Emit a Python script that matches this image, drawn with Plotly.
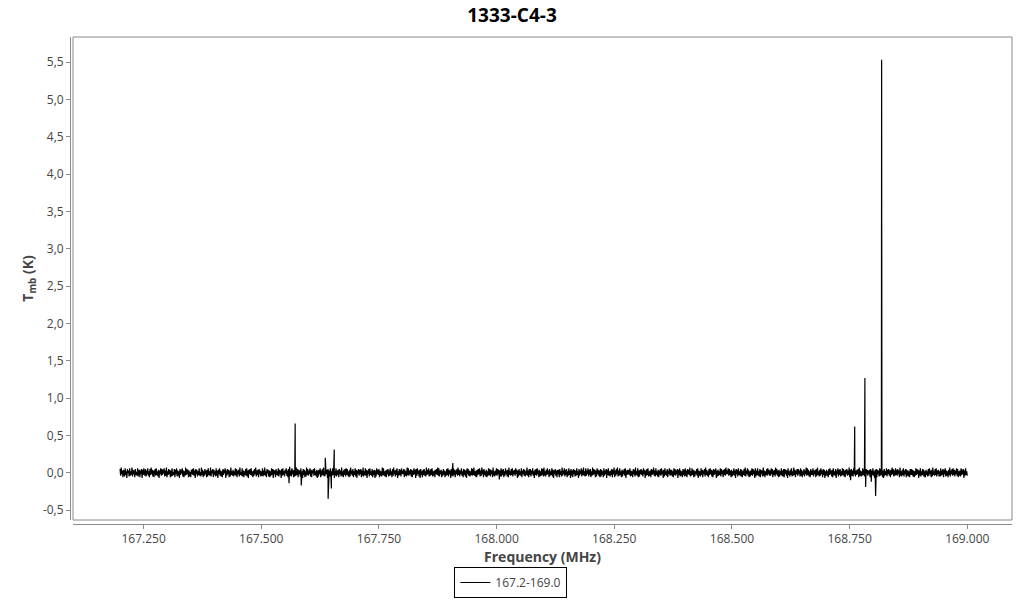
import numpy as np
import plotly.graph_objects as go

title_text = "1333-C4-3"
series_name = "167.2-169.0"
x_title = "Frequency (MHz)"
y_title = "T<sub>mb</sub> (K)"

freq_start = 167.2
freq_stop = 169.0

# baseline channel noise, in units of 0.01 K (read as a dense band of about +/-0.06 K)
noise_centiK = [
    5, -4, 7, -2, 3, -6, 4, 1, -5, 6, -3, 2, -7, 5, -1, 3, -5, 6, -4, 2, -3, 7, -5, 4, -2,
    3, -6, 5, -3, 1, -4, 6, -5, 2, 4, -6, 3, -2, 5, -7, 4, -3, 6, -1, -4, 5, -5, 3, -2, 6,
    -4, 2, -6, 5, -3, 7, -2, 4, -5, 3, -6, 1, 5, -4, 6, -3, 2, -5, 4, -7, 3, -2, 6, -4, 5,
    -3, 4, -1, 6, -5, 3, -4, 7, -6, 2, -3, 5, -2, 4, -6, 3, -5, 6, -4, 1, -3, 5, -6, 4, -2,
    6, -5, 3, -4, 2, -7, 5, -3, 4, -1, 6, -5, 3, -6, 2, -4, 7, -3, 5, -2, 4, -6, 3, -5, 1,
    -6, 4, -2, 5, -3, 6, -4, 3, -7, 5, -2, 4, -5, 2, -3, 6, -4, 1, -5, 7, -3, 4, -6, 2, -4,
    5, -2, 3, -6, 4, -5, 6, -3, 2, -4, 7, -5, 3, -1, 5, -6, 4, -3, 2, -5, 6, -4, 3, -7, 4,
    -2, 6, -4, 3, -5, 2, -6, 5, -3, 4, -1, 6, -7, 3, -4, 5, -2, 4, -6, 3, -5, 7, -3, 2, -4,
    4, -5, 2, -3, 6, -4, 5, -6, 3, -2, 4, -5, 7, -3, 1, -4, 6, -5, 3, -6, 2, -3, 5, -4, 6,
    -5, 3, -7, 4, -2, 5, -3, 6, -4, 2, -6, 3, -4, 5, -2, 7, -5, 3, -3, 4, -6, 5, -2, 3, -5,
    2, -4, 6, -5, 3, -3, 7, -4, 2, -6, 5, -1, 4, -5, 3, -6, 2, -4, 6, -3, 5, -7, 4, -2, 3,
    -6, 5, -3, 2, -4, 6, -5, 4, -2, 3, -7, 5, -4, 6, -3, 2, -5, 4, -1, 6, -4, 3, -6, 5, -3,
    8, -4, 3, -5, 6, -2, 4, -6, 3, -5, 2, -4, 7, -3, 5, -6, 4, -2, 3, -5, 6, -4, 2, -7, 5,
    -3, 4, -6, 2, -5, 7, -3, 5, -4, 3, -2, 6, -5, 4, -6, 3, -1, 5, -4, 6, -3, 2, -5, 4, -7,
    3, -5, 4, -2, 6, -6, 3, -4, 5, -3, 7, -5, 2, -4, 6, -2, 4, -7, 5, -3, 3, -5, 6, -4, 2,
    -4, 6, -3, 5, -7, 2, -4, 6, -5, 3, -3, 4, -6, 5, -2, 3, -5, 7, -4, 2, -6, 4, -3, 5, -5,
    6, -3, 5, -4, 2, -6, 4, -5, 7, -2, 3, -4, 5, -6, 2, -3, 6, -5, 4, -7, 3, -2, 5, -4, 4,
    -2, 5, -6, 3, -4, 7, -5, 2, -3, 6, -4, 4, -7, 3, -2, 5, -5, 6, -3, 2, -4, 5, -6, 3, -3,
    4, -7, 3, -5, 6, -2, 4, -3, 5, -6, 3, -4, 2, -5, 7, -3, 6, -4, 2, -5, 3, -6, 4, -2, 5,
    -5, 3, -4, 6, -3, 2, -6, 5, -4, 7, -2, 3, -5, 4, -3, 6, -7, 2, -4, 5, -3, 4, -5, 6, -2,
    3, -2, 5, -6, 4, -4, 2, -5, 7, -3, 6, -4, 3, -2, 5, -5, 4, -6, 3, -3, 6, -2, 4, -7, 5,
    -4, 6, -2, 3, -5, 4, -7, 5, -3, 2, -6, 4, -3, 5, -4, 2, -5, 7, -3, 4, -2, 6, -5, 3, -4,
    5, -3, 6, -5, 2, -4, 3, -6, 4, -2, 5, -3, 7, -4, 6, -5, 3, -2, 4, -6, 2, -4, 5, -3, 3,
    -6, 2, -4, 5, -3, 6, -5, 4, -2, 3, -7, 5, -4, 2, -5, 6, -3, 4, -6, 3, -2, 5, -4, 7, -3,
    4, -5, 3, -2, 6, -4, 2, -6, 5, -3, 4, -5, 3, -7, 6, -2, 5, -4, 3, -5, 2, -3, 6, -4, 5,
    -3, 7, -4, 2, -5, 3, -6, 4, -3, 5, -2, 6, -5, 3, -4, 7, -2, 4, -6, 5, -3, 2, -5, 4, -6,
    2, -4, 6, -3, 5, -5, 4, -2, 3, -6, 7, -4, 2, -5, 3, -3, 6, -4, 5, -2, 4, -9, 3, -5, 6,
    -5, 4, -3, 5, -6, 2, -4, 6, -2, 3, -5, 4, -6, 7, -3, 2, -4, 5, -3, 6, -5, 3, -2, 4, -4,
    6, -2, 4, -7, 3, -5, 5, -3, 2, -4, 6, -6, 3, -2, 5, -4, 4, -5, 2, -3, 7, -4, 3, -6, 5,
    -3, 5, -5, 3, -2, 6, -4, 2, -7, 4, -3, 5, -4, 6, -2, 3, -6, 4, -5, 2, -4, 6, -3, 5, -5,
    7, -4, 2, -5, 4, -3, 6, -2, 3, -6, 5, -4, 2, -3, 6, -5, 4, -7, 3, -2, 5, -4, 3, -6, 4,
    -2, 4, -6, 5, -3, 2, -5, 7, -4, 3, -2, 6, -5, 4, -3, 5, -6, 2, -4, 6, -3, 3, -7, 5, -4,
    3, -6, 5, -2, 4, -5, 3, -4, 6, -3, 2, -7, 5, -4, 3, -2, 6, -5, 4, -3, 7, -4, 2, -5, 6,
    -4, 3, -2, 6, -5, 4, -3, 5, -6, 2, -4, 7, -3, 5, -2, 4, -6, 3, -5, 6, -2, 4, -4, 3, -6,
    5, -5, 4, -3, 2, -6, 6, -4, 3, -2, 5, -7, 4, -3, 6, -4, 2, -5, 3, -3, 5, -6, 4, -2, 7,
    -6, 3, -4, 5, -2, 7, -5, 3, -4, 6, -3, 2, -6, 4, -5, 3, -2, 5, -4, 6, -7, 3, -3, 4, -2,
    4, -3, 6, -5, 3, -4, 2, -6, 5, -2, 4, -5, 7, -3, 2, -4, 6, -6, 3, -5, 4, -2, 5, -3, 3,
    -5, 6, -2, 4, -7, 3, -4, 5, -3, 6, -5, 2, -4, 3, -6, 5, -3, 4, -2, 7, -4, 3, -5, 6, -3,
    2, -5, 4, -6, 3, -3, 5, -4, 6, -2, 3, -7, 4, -5, 6, -3, 2, -4, 5, -6, 3, -2, 6, -4, 4,
    -3, 4, -5, 2, -6, 6, -3, 5, -4, 3, -2, 5, -7, 4, -3, 6, -5, 3, -4, 2, -6, 5, -3, 4, -5,
    6, -4, 3, -6, 5, -2, 4, -3, 7, -5, 2, -4, 6, -3, 4, -6, 3, -5, 2, -2, 5, -4, 6, -7, 3,
    -4, 2, -5, 6, -3, 4, -6, 3, -2, 5, -5, 7, -3, 4, -4, 2, -6, 5, -3, 6, -2, 4, -5, 3, -6,
    5, -3, 4, -2, 6, -7, 3, -5, 4, -4, 2, -3, 6, -5, 5, -2, 3, -6, 4, -3, 5, -4, 7, -2, 3,
    -2, 6, -4, 5, -3, 3, -6, 4, -5, 2, -3, 6, -4, 3, -7, 5, -2, 4, -5, 6, -3, 2, -4, 5, -5,
    4, -6, 2, -3, 5, -4, 7, -5, 3, -2, 6, -4, 4, -6, 2, -5, 3, -3, 6, -4, 5, -2, 3, -7, 6,
    -5, 3, -3, 6, -4, 2, -5, 5, -6, 4, -2, 3, -5, 7, -4, 3, -6, 2, -3, 5, -4, 6, -2, 4, -4,
    3, -4, 6, -2, 5, -6, 3, -3, 4, -5, 7, -2, 5, -4, 3, -6, 4, -5, 2, -3, 6, -4, 3, -5, 5,
    -6, 5, -2, 4, -4, 3, -7, 6, -3, 2, -5, 4, -3, 6, -5, 2, -4, 7, -3, 4, -6, 3, -2, 5, -4,
    5, -2, 3, -5, 6, -4, 4, -6, 2, -3, 5, -5, 3, -2, 7, -4, 6, -3, 4, -5, 2, -6, 5, -3, 3,
    -3, 6, -5, 3, -2, 4, -6, 5, -4, 7, -3, 2, -5, 4, -4, 6, -2, 3, -6, 5, -3, 4, -7, 2, -4,
    4, -4, 2, -6, 5, -3, 6, -2, 3, -5, 4, -6, 6, -3, 2, -4, 5, -7, 3, -2, 6, -5, 4, -3, 5,
    -5, 2, -4, 6, -3, 5, -5, 3, -6, 4, -2, 5, -4, 3, -3, 7, -6, 4, -2, 5, -4, 3, -5, 6, -2,
    6, -5, 3, -3, 4, -2, 5, -6, 7, -4, 3, -5, 2, -4, 6, -3, 4, -5, 3, -6, 5, -2, 4, -4, 3,
    -2, 4, -6, 5, -5, 3, -3, 6, -4, 2, -7, 4, -3, 5, -6, 4, -2, 3, -5, 6, -4, 5, -3, 2, -6,
    3, -7, 5, -4, 2, -3, 6, -5, 4, -2, 5, -4, 3, -6, 4, -3, 7, -2, 5, -5, 3, -4, 6, -3, 4,
    -4, 5, -2, 3, -6, 7, -4, 2, -5, 4, -3, 6, -5, 3, -2, 5, -6, 4, -4, 3, -5, 2, -6, 5, -3,
    5, -3, 4, -5, 3, -6, 2, -4, 6, -3, 5, -2, 4, -7, 3, -4, 6, -5, 2, -3, 5, -4, 4, -6, 2,
    -6, 4, -3, 2, -5, 5, -4, 6, -2, 3, -6, 4, -5, 7, -3, 2, -4, 5, -3, 6, -5, 3, -2, 4, -5,
    2, -5, 6, -4, 3, -3, 5, -6, 4, -2, 6, -5, 3, -4, 2, -6, 4, -3, 7, -5, 3, -2, 5, -4, 6,
    -3, 4, -5, 3, -2, 6, -4, 5, -6, 2, -4, 3, -5, 6, -3, 4, -2, 5, -7, 3, -4, 6, -3, 2, -4,
]

# spectral line channels (frequency in MHz, Tmb in K)
line_freqs = [167.559, 167.572, 167.585, 167.636, 167.642, 167.649, 167.655,
              167.907, 168.752, 168.7603, 168.7608, 168.7825, 168.784, 168.796,
              168.8052, 168.818]
line_temps = [-0.14, 0.66, -0.17, 0.20, -0.35, -0.21, 0.31,
              0.13, -0.10, 0.60, 0.62, 1.27, -0.19, -0.12,
              -0.31, 5.53]

x_tickvals = [167.25, 167.5, 167.75, 168.0, 168.25, 168.5, 168.75, 169.0]
x_ticktext = ["167.250", "167.500", "167.750", "168.000", "168.250", "168.500", "168.750", "169.000"]
y_tickvals = [-0.5, 0.0, 0.5, 1.0, 1.5, 2.0, 2.5, 3.0, 3.5, 4.0, 4.5, 5.0, 5.5]
y_ticktext = ["-0,5", "0,0", "0,5", "1,0", "1,5", "2,0", "2,5", "3,0", "3,5", "4,0", "4,5", "5,0", "5,5"]

noise_freqs = np.linspace(freq_start, freq_stop, len(noise_centiK))
freqs = np.concatenate([noise_freqs, np.array(line_freqs)])
temps = np.concatenate([np.array(noise_centiK) / 100.0, np.array(line_temps)])
order = np.argsort(freqs, kind="stable")

fig = go.Figure()
fig.add_trace(go.Scatter(
    x=freqs[order], y=temps[order], mode="lines", name=series_name,
    line=dict(color="black", width=1.2), showlegend=True,
))

axis_col = "#8a8a8a"
tick_font = dict(family="Open Sans, sans-serif", size=12, color="#444")
title_font = dict(family="Open Sans, sans-serif", size=14, color="#444", weight="bold")

fig.update_layout(
    width=1024, height=600,
    paper_bgcolor="white", plot_bgcolor="white",
    margin=dict(l=70, r=12, t=37, b=76, autoexpand=False),
    title=dict(text=title_text, x=0.5, xref="container", xanchor="center",
               y=1 - 15 / 600, yref="container", yanchor="middle",
               font=dict(family="Open Sans, sans-serif", size=19, color="black", weight="bold")),
    showlegend=True,
    legend=dict(orientation="h", x=0.468, xanchor="center", y=-0.152, yanchor="bottom",
                bordercolor="black", borderwidth=1, bgcolor="white",
                font=dict(family="Open Sans, sans-serif", size=12, color="#444"),
                itemwidth=30, tracegroupgap=0),
    xaxis=dict(domain=[3 / 942, 1], range=[167.1, 169.095], anchor="free", position=0,
               automargin=False,
               showline=True, linecolor=axis_col, linewidth=1, showgrid=False, zeroline=False,
               ticks="outside", ticklen=4, tickcolor=axis_col, tickwidth=1,
               tickvals=x_tickvals, ticktext=x_ticktext, tickfont=tick_font,
               title=dict(text=x_title, font=title_font, standoff=5)),
    yaxis=dict(domain=[4 / 487, 1], range=[-0.633, 5.835], anchor="free", position=0,
               automargin=False,
               showline=True, linecolor=axis_col, linewidth=1, showgrid=False, zeroline=False,
               ticks="outside", ticklen=4, tickcolor=axis_col, tickwidth=1,
               tickvals=y_tickvals, ticktext=y_ticktext, tickfont=tick_font,
               title=dict(text=y_title, font=title_font, standoff=4)),
)

fig.add_shape(type="rect", xref="x domain", yref="y domain", x0=0, x1=1, y0=0, y1=1,
              line=dict(color=axis_col, width=1), fillcolor="rgba(0,0,0,0)", layer="below")

# remove the browser's default 8px page margin so the 1024x600 figure fills the window
fig.write_html("out.html", config={"displayModeBar": False},
               post_script="document.body.style.margin='0px';")
